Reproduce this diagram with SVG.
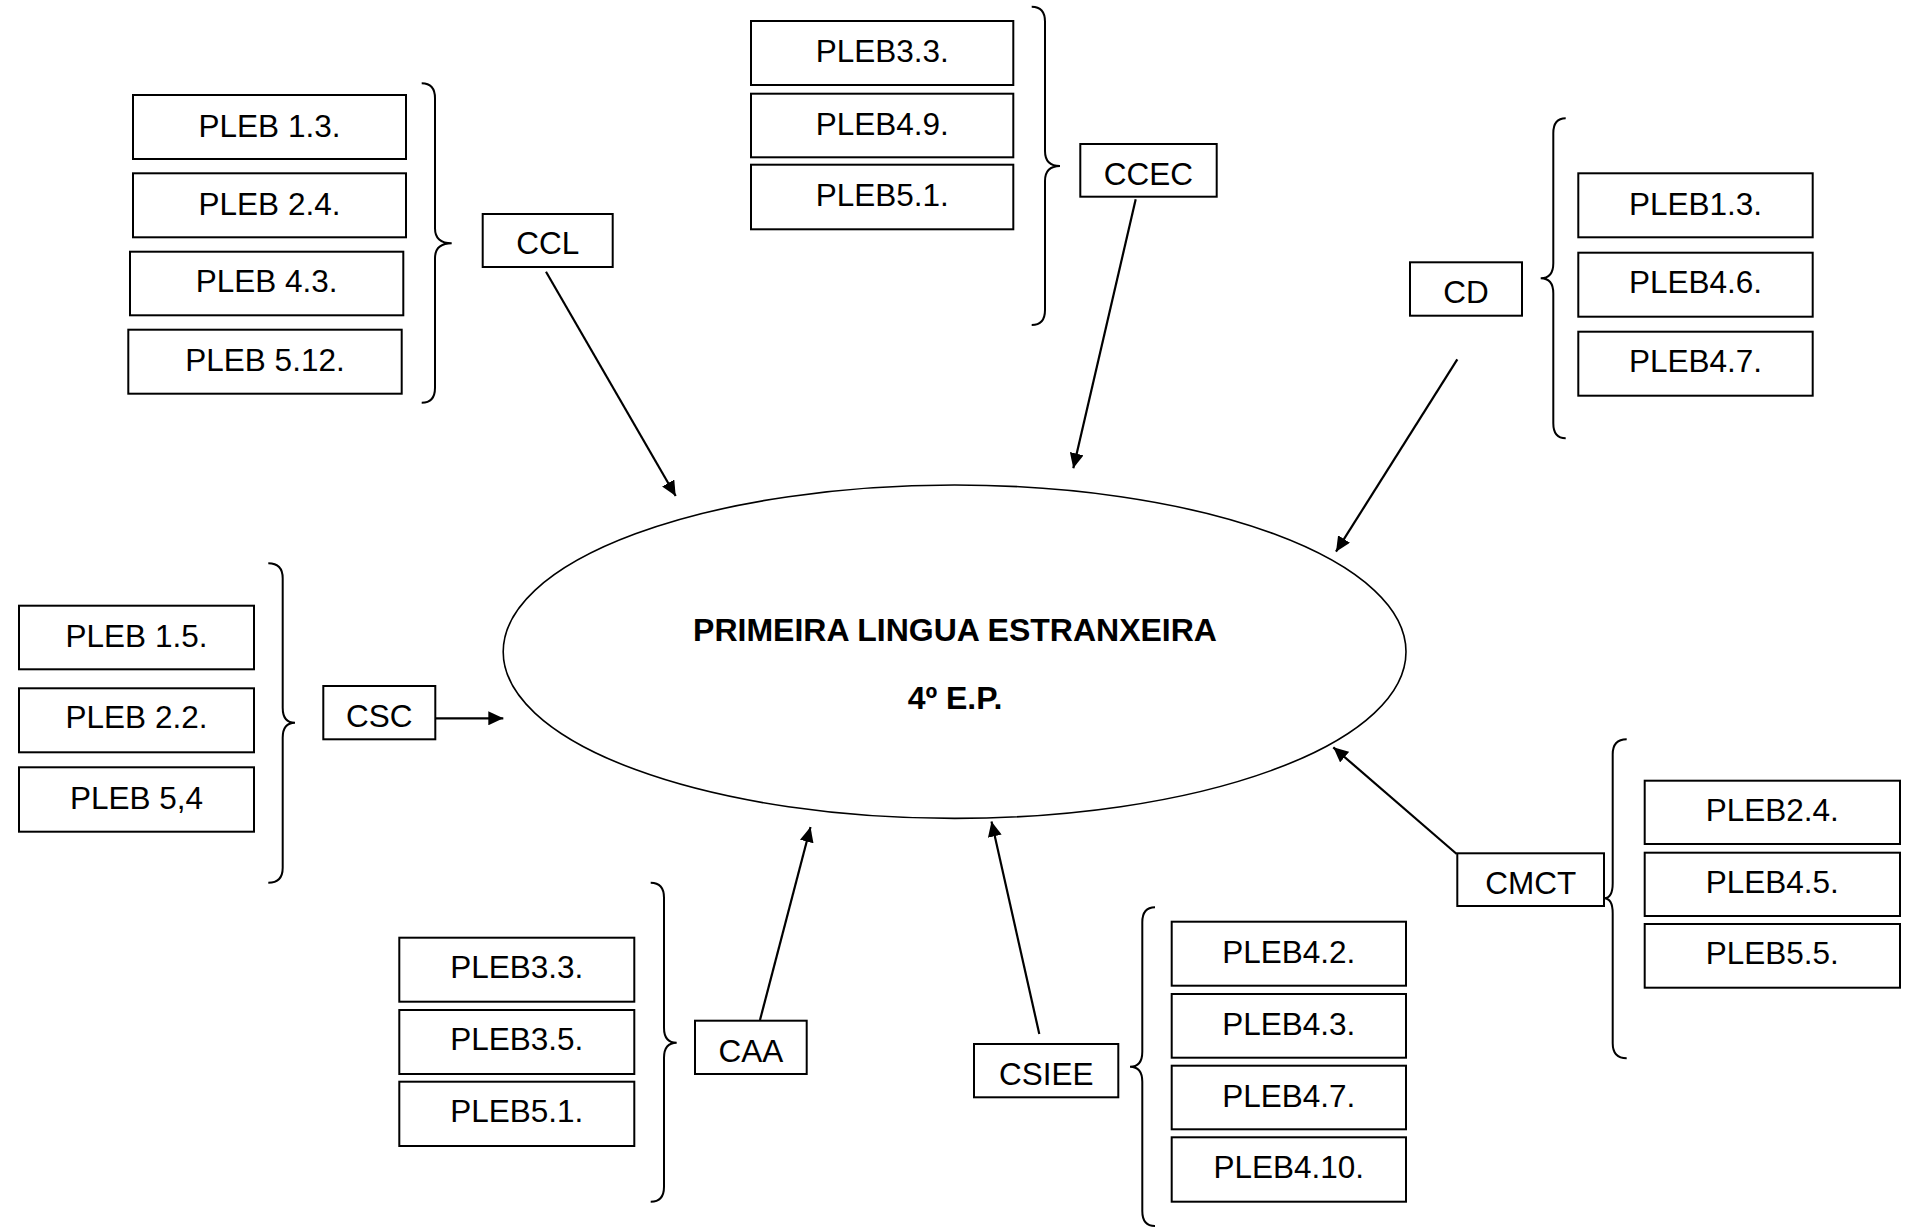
<svg xmlns="http://www.w3.org/2000/svg" width="1910" height="1232" viewBox="0 0 1910 1232">
<style>
.box{fill:#fff;stroke:#000;stroke-width:2}
.t{font-family:"Liberation Sans",Arial,sans-serif;font-size:31.5px;text-anchor:middle;fill:#000}
.title{font-family:"Liberation Sans",Arial,sans-serif;font-size:32px;font-weight:bold;text-anchor:middle;fill:#000}
.brace{fill:none;stroke:#000;stroke-width:2}
.conn{stroke:#000;stroke-width:2.2;fill:none;marker-end:url(#arr)}
</style>
<defs>
<marker id="arr" markerUnits="userSpaceOnUse" markerWidth="16" markerHeight="14" refX="15" refY="7" orient="auto">
<path d="M0,0 L15,7 L0,14 z" fill="#000"/>
</marker>
</defs>
<rect width="1910" height="1232" fill="#fff"/>

<g id="center">
<ellipse cx="954.6" cy="651.7" rx="451.4" ry="166.7" fill="#fff" stroke="#000" stroke-width="1.6"/>
<text class="title" x="955" y="640.7">PRIMEIRA LINGUA ESTRANXEIRA</text>
<text class="title" x="955" y="709.3">4º E.P.</text>
</g>

<g id="connectors">
<line class="conn" x1="546" y1="271.7" x2="675.7" y2="496"/>
<line class="conn" x1="1135.7" y1="199.3" x2="1073.3" y2="468.3"/>
<line class="conn" x1="1457.3" y1="359.3" x2="1336" y2="551.7"/>
<line class="conn" x1="435.3" y1="718.3" x2="503.3" y2="718.3"/>
<line class="conn" x1="1456.7" y1="854" x2="1333.3" y2="747.3"/>
<line class="conn" x1="760" y1="1020" x2="810.5" y2="827"/>
<line class="conn" x1="1039.3" y1="1034" x2="991.5" y2="821.5"/>
</g>

<g id="braces">
<path class="brace" d="M421.7,83.3 Q435,83.3 435,98.3 L435,228.3 Q435,243.3 451.7,243.3 Q435,243.3 435,258.3 L435,387.7 Q435,402.7 421.7,402.7"/>
<path class="brace" d="M1031.7,6.7 Q1045,6.7 1045,21.7 L1045,151 Q1045,166 1060,166 Q1045,166 1045,181 L1045,310 Q1045,325 1031.7,325"/>
<path class="brace" d="M1565.7,118.3 Q1553.3,118.3 1553.3,133.3 L1553.3,263.3 Q1553.3,278.3 1540.7,278.3 Q1553.3,278.3 1553.3,293.3 L1553.3,423.3 Q1553.3,438.3 1565.7,438.3"/>
<path class="brace" d="M268.3,563.3 Q282.7,563.3 282.7,578.3 L282.7,707.7 Q282.7,722.7 295,722.7 Q282.7,722.7 282.7,737.7 L282.7,867.7 Q282.7,882.7 268.3,882.7"/>
<path class="brace" d="M650.7,882.7 Q664,882.7 664,897.7 L664,1027.7 Q664,1042.7 676.7,1042.7 Q664,1042.7 664,1057.7 L664,1186.7 Q664,1201.7 650.7,1201.7"/>
<path class="brace" d="M1155,907.3 Q1142.3,907.3 1142.3,922.3 L1142.3,1051.7 Q1142.3,1066.7 1130,1066.7 Q1142.3,1066.7 1142.3,1081.7 L1142.3,1211 Q1142.3,1226 1155,1226"/>
<path class="brace" d="M1626.7,739.3 Q1612.7,739.3 1612.7,754.3 L1612.7,883.3 Q1612.7,898.3 1604,898.3 Q1612.7,898.3 1612.7,913.3 L1612.7,1043.3 Q1612.7,1058.3 1626.7,1058.3"/>
</g>

<g id="CCL">
<rect class="box" x="482.7" y="214" width="130" height="53"/>
<text class="t" x="547.7" y="254">CCL</text>
</g>
<g id="CCL-items">
<rect class="box" x="133" y="95" width="273" height="64"/>
<text class="t" x="269.5" y="136.7">PLEB 1.3.</text>
<rect class="box" x="133" y="173.3" width="273" height="64"/>
<text class="t" x="269.5" y="215">PLEB 2.4.</text>
<rect class="box" x="130" y="251.7" width="273.3" height="63.6"/>
<text class="t" x="266.7" y="292">PLEB 4.3.</text>
<rect class="box" x="128.3" y="329.7" width="273.4" height="64"/>
<text class="t" x="265" y="370.7">PLEB 5.12.</text>
</g>

<g id="CCEC">
<rect class="box" x="1080.3" y="144" width="136.4" height="52.7"/>
<text class="t" x="1148.5" y="185">CCEC</text>
</g>
<g id="CCEC-items">
<rect class="box" x="751" y="21" width="262.3" height="64"/>
<text class="t" x="882.2" y="61.7">PLEB3.3.</text>
<rect class="box" x="751" y="93.7" width="262.3" height="63.6"/>
<text class="t" x="882.2" y="135">PLEB4.9.</text>
<rect class="box" x="751" y="164.7" width="262.3" height="64.6"/>
<text class="t" x="882.2" y="206">PLEB5.1.</text>
</g>

<g id="CD">
<rect class="box" x="1410" y="262.3" width="112" height="53.4"/>
<text class="t" x="1466" y="303.3">CD</text>
</g>
<g id="CD-items">
<rect class="box" x="1578.3" y="173.3" width="234.4" height="64"/>
<text class="t" x="1695.5" y="215">PLEB1.3.</text>
<rect class="box" x="1578.3" y="252.7" width="234.4" height="64"/>
<text class="t" x="1695.5" y="293.3">PLEB4.6.</text>
<rect class="box" x="1578.3" y="331.7" width="234.4" height="64"/>
<text class="t" x="1695.5" y="371.7">PLEB4.7.</text>
</g>

<g id="CSC">
<rect class="box" x="323.3" y="686" width="112" height="53.3"/>
<text class="t" x="379.3" y="726.7">CSC</text>
</g>
<g id="CSC-items">
<rect class="box" x="19" y="605.7" width="235" height="63.6"/>
<text class="t" x="136.5" y="647.3">PLEB 1.5.</text>
<rect class="box" x="19" y="688.3" width="235" height="64"/>
<text class="t" x="136.5" y="728.3">PLEB 2.2.</text>
<rect class="box" x="19" y="767.3" width="235" height="64.4"/>
<text class="t" x="136.5" y="809">PLEB 5,4</text>
</g>

<g id="CAA">
<rect class="box" x="695" y="1020.7" width="111.7" height="53.3"/>
<text class="t" x="750.8" y="1061.7">CAA</text>
</g>
<g id="CAA-items">
<rect class="box" x="399.3" y="937.7" width="235" height="64"/>
<text class="t" x="516.8" y="978.3">PLEB3.3.</text>
<rect class="box" x="399.3" y="1010" width="235" height="64"/>
<text class="t" x="516.8" y="1050">PLEB3.5.</text>
<rect class="box" x="399.3" y="1081.7" width="235" height="64.3"/>
<text class="t" x="516.8" y="1121.7">PLEB5.1.</text>
</g>

<g id="CSIEE">
<rect class="box" x="974" y="1044" width="144.3" height="53.3"/>
<text class="t" x="1046.2" y="1085">CSIEE</text>
</g>
<g id="CSIEE-items">
<rect class="box" x="1171.7" y="921.7" width="234.3" height="64"/>
<text class="t" x="1288.8" y="962.7">PLEB4.2.</text>
<rect class="box" x="1171.7" y="994" width="234.3" height="63.7"/>
<text class="t" x="1288.8" y="1035">PLEB4.3.</text>
<rect class="box" x="1171.7" y="1065.7" width="234.3" height="63.6"/>
<text class="t" x="1288.8" y="1106.7">PLEB4.7.</text>
<rect class="box" x="1171.7" y="1137.3" width="234.3" height="64.4"/>
<text class="t" x="1288.8" y="1178.3">PLEB4.10.</text>
</g>

<g id="CMCT">
<rect class="box" x="1457.3" y="853.3" width="146.7" height="52.7"/>
<text class="t" x="1530.7" y="894">CMCT</text>
</g>
<g id="CMCT-items">
<rect class="box" x="1644.7" y="780.7" width="255.3" height="63.3"/>
<text class="t" x="1772.3" y="820.7">PLEB2.4.</text>
<rect class="box" x="1644.7" y="852.7" width="255.3" height="63.3"/>
<text class="t" x="1772.3" y="893.3">PLEB4.5.</text>
<rect class="box" x="1644.7" y="924" width="255.3" height="63.7"/>
<text class="t" x="1772.3" y="964.3">PLEB5.5.</text>
</g>
</svg>
